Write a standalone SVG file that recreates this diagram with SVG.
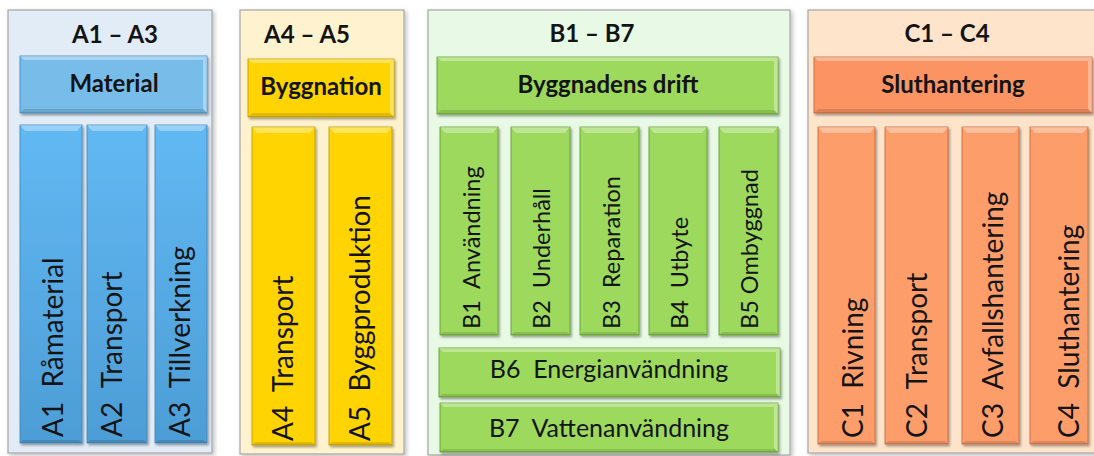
<svg xmlns="http://www.w3.org/2000/svg" width="1094" height="456" viewBox="0 0 1094 456">
<defs>
<filter id="sh" x="-10%" y="-10%" width="130%" height="130%">
<feDropShadow dx="1.5" dy="2" stdDeviation="1.2" flood-color="#000" flood-opacity="0.35"/>
</filter>
<filter id="psh" x="-5%" y="-5%" width="110%" height="110%">
<feDropShadow dx="2" dy="2" stdDeviation="2" flood-color="#000" flood-opacity="0.25"/>
</filter>
<linearGradient id="gBlue" x1="0" y1="0" x2="0" y2="1">
<stop offset="0" stop-color="#62b9f3"/>
<stop offset="1" stop-color="#4d9dd6"/>
</linearGradient>
</defs>
<style>
.t{font-family:Lato,"Liberation Sans",sans-serif;fill:#141414}
.ttl{font-size:24px;font-weight:bold;text-anchor:middle}
.hd{font-size:24px;font-weight:bold;text-anchor:middle}
.vt{font-size:28px;white-space:pre}
.vb{font-size:23.5px;white-space:pre}
.ht{font-size:25px;text-anchor:middle;white-space:pre}
.pA{fill:#e1ecf7}.pY{fill:#fff3cf}.pG{fill:#e8f9e5}.pO{fill:#fde4cb}
.panel{stroke:#a6a6a6;stroke-width:1.2;filter:url(#psh)}
.box{filter:url(#sh);stroke-width:0.8}
.bA{fill:url(#gBlue);stroke:#3d84b8}.bAh{fill:#78bde9;stroke:#3d84b8}
.bY{fill:#ffd400;stroke:#b89600}
.bG{fill:#9cd95c;stroke:#5e9a2a}
.bO{fill:#fd9d6a;stroke:#c0643a}.bOh{fill:#fb9363;stroke:#c0643a}
.hl{fill:#fff;opacity:0.35}
.dk{fill:#000;opacity:0.12}
</style>

<g id="panel-A">
<rect class="panel pA" x="8" y="10" width="204" height="443"/>
<text class="t ttl" x="115" y="43">A1 – A3</text>
</g>
<g id="panel-A4A5">
<rect class="panel pY" x="240" y="10" width="164" height="444"/>
<text class="t ttl" x="307" y="43">A4 – A5</text>
</g>
<g id="panel-B">
<rect class="panel pG" x="428" y="10" width="362" height="445"/>
<text class="t ttl" x="592" y="42">B1 – B7</text>
</g>
<g id="panel-C">
<rect class="panel pO" x="808" y="10" width="300" height="443"/>
<text class="t ttl" x="947" y="42">C1 – C4</text>
</g>

<g id="node-material">
<rect class="box bAh" x="20" y="56" width="187" height="57"/>
<path class="hl" d="M20 56h187l-4 4H24z"/>
<path class="hl" d="M207 56v57l-4-4V60z"/>
<path class="dk" d="M20 113h187l-4-4H24z"/>
<text class="t hd" x="114" y="92">Material</text>
</g>
<g id="node-A1">
<rect class="box bA" x="20" y="125" width="62" height="318"/>
<path class="hl" d="M20 125h62l-5 6H25z"/>
<path class="dk" d="M20 443h62l-3-3H23z"/>
<text class="t vt" transform="translate(63,437) rotate(-90)">A1  Råmaterial</text>
</g>
<g id="node-A2">
<rect class="box bA" x="87" y="125" width="60" height="318"/>
<path class="hl" d="M87 125h60l-5 6H92z"/>
<path class="dk" d="M87 443h60l-3-3H90z"/>
<text class="t vt" transform="translate(122,437) rotate(-90)">A2  Transport</text>
</g>
<g id="node-A3">
<rect class="box bA" x="155" y="125" width="52" height="318"/>
<path class="hl" d="M155 125h52l-5 6h-42z"/>
<path class="dk" d="M155 443h52l-3-3h-46z"/>
<text class="t vt" transform="translate(190,437) rotate(-90)">A3  Tillverkning</text>
</g>

<g id="node-byggnation">
<rect class="box bY" x="248" y="59" width="146" height="58"/>
<path class="hl" d="M248 59h146l-4 4H252z"/>
<path class="hl" d="M394 59v58l-4-4V63z"/>
<path class="dk" d="M248 117h146l-4-4H252z"/>
<text class="t hd" x="321" y="95">Byggnation</text>
</g>
<g id="node-A4">
<rect class="box bY" x="252" y="127" width="63" height="318"/>
<path class="hl" d="M252 127h63l-5 6h-53z"/>
<path class="dk" d="M252 445h63l-3-3h-57z"/>
<text class="t vt" transform="translate(293,441) rotate(-90)">A4  Transport</text>
</g>
<g id="node-A5">
<rect class="box bY" x="329" y="127" width="63" height="318"/>
<path class="hl" d="M329 127h63l-5 6h-53z"/>
<path class="dk" d="M329 445h63l-3-3h-57z"/>
<text class="t vt" transform="translate(370,441) rotate(-90)">A5  Byggproduktion</text>
</g>

<g id="node-drift">
<rect class="box bG" x="437" y="57" width="341" height="57"/>
<path class="hl" d="M437 57h341l-4 4H441z"/>
<path class="hl" d="M778 57v57l-4-4V61z"/>
<path class="dk" d="M437 114h341l-4-4H441z"/>
<text class="t hd" x="608" y="93">Byggnadens drift</text>
</g>
<g id="node-B1">
<rect class="box bG" x="440" y="127" width="58" height="208"/>
<path class="hl" d="M440 127h58l-5 6h-48z"/>
<path class="dk" d="M440 335h58l-3-3h-52z"/>
<text class="t vb" transform="translate(480,329) rotate(-90)">B1  Användning</text>
</g>
<g id="node-B2">
<rect class="box bG" x="511" y="127" width="59" height="208"/>
<path class="hl" d="M511 127h59l-5 6h-49z"/>
<path class="dk" d="M511 335h59l-3-3h-53z"/>
<text class="t vb" transform="translate(550,329) rotate(-90)">B2  Underhåll</text>
</g>
<g id="node-B3">
<rect class="box bG" x="580" y="127" width="59" height="208"/>
<path class="hl" d="M580 127h59l-5 6h-49z"/>
<path class="dk" d="M580 335h59l-3-3h-53z"/>
<text class="t vb" transform="translate(620,329) rotate(-90)">B3  Reparation</text>
</g>
<g id="node-B4">
<rect class="box bG" x="649" y="127" width="58" height="208"/>
<path class="hl" d="M649 127h58l-5 6h-48z"/>
<path class="dk" d="M649 335h58l-3-3h-52z"/>
<text class="t vb" transform="translate(688,329) rotate(-90)">B4  Utbyte</text>
</g>
<g id="node-B5">
<rect class="box bG" x="719" y="127" width="59" height="208"/>
<path class="hl" d="M719 127h59l-5 6h-49z"/>
<path class="dk" d="M719 335h59l-3-3h-53z"/>
<text class="t vb" transform="translate(758,329) rotate(-90)">B5 Ombyggnad</text>
</g>
<g id="node-B6">
<rect class="box bG" x="439" y="348" width="341" height="49"/>
<path class="hl" d="M439 348h341l-4 4H443z"/>
<path class="hl" d="M780 348v49l-4-4v-41z"/>
<path class="dk" d="M439 397h341l-3-3H442z"/>
<text class="t ht" x="609" y="378">B6  Energianvändning</text>
</g>
<g id="node-B7">
<rect class="box bG" x="440" y="403" width="338" height="49"/>
<path class="hl" d="M440 403h338l-4 4H444z"/>
<path class="hl" d="M778 403v49l-4-4v-41z"/>
<path class="dk" d="M440 452h338l-3-3H443z"/>
<text class="t ht" x="609" y="437">B7  Vattenanvändning</text>
</g>

<g id="node-sluthantering">
<rect class="box bOh" x="814" y="57" width="278" height="56"/>
<path class="hl" d="M814 57h278l-4 4H818z"/>
<path class="hl" d="M1092 57v56l-4-4V61z"/>
<path class="dk" d="M814 113h278l-4-4H818z"/>
<text class="t hd" x="953" y="93">Sluthantering</text>
</g>
<g id="node-C1">
<rect class="box bO" x="818" y="127" width="57" height="317"/>
<path class="hl" d="M818 127h57l-5 6h-47z"/>
<path class="dk" d="M818 444h57l-3-3h-51z"/>
<text class="t vt" transform="translate(863,438) rotate(-90)">C1  Rivning</text>
</g>
<g id="node-C2">
<rect class="box bO" x="885" y="127" width="63" height="317"/>
<path class="hl" d="M885 127h63l-5 6h-53z"/>
<path class="dk" d="M885 444h63l-3-3h-57z"/>
<text class="t vt" transform="translate(927,438) rotate(-90)">C2  Transport</text>
</g>
<g id="node-C3">
<rect class="box bO" x="962" y="127" width="57" height="317"/>
<path class="hl" d="M962 127h57l-5 6h-47z"/>
<path class="dk" d="M962 444h57l-3-3h-51z"/>
<text class="t vt" transform="translate(1003,438) rotate(-90)">C3  Avfallshantering</text>
</g>
<g id="node-C4">
<rect class="box bO" x="1030" y="127" width="58" height="317"/>
<path class="hl" d="M1030 127h58l-5 6h-48z"/>
<path class="dk" d="M1030 444h58l-3-3h-52z"/>
<text class="t vt" transform="translate(1079,438) rotate(-90)">C4  Sluthantering</text>
</g>

<g id="connectors"></g>
</svg>
